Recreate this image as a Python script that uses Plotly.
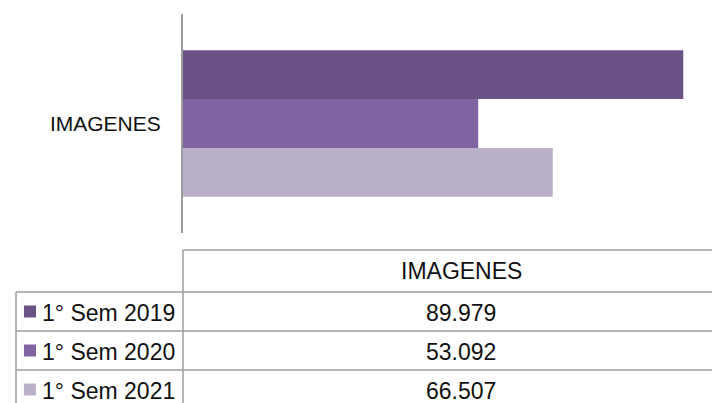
import plotly.graph_objects as go

# ── Datos ────────────────────────────────────────────────────
categoria = "IMAGENES"
series = ["1° Sem 2019", "1° Sem 2020", "1° Sem 2021"]
valores = [89979, 53092, 66507]
colores = ["#6a5186", "#8064a2", "#bab0ca"]

# la página tiene 8px de margen en el body: el gráfico ocupa 712x395
OFF = 8
W, H = 720 - OFF, 403 - OFF
FONT = "Liberation Sans, Arial, sans-serif"
GRIS = "#9c9c9c"
TXT = "#111111"


def px(x):
    return (x - OFF) / W


def py(y):
    return 1 - (y - OFF) / H


fig = go.Figure()
for nombre, v, c in zip(series, valores, colores):
    fig.add_trace(go.Bar(
        y=[categoria], x=[v], name=nombre, orientation="h",
        marker=dict(color=c, line_width=0), showlegend=False,
    ))

# eje: 0 en x=183, 100.000 en x≈739 (fuera de la imagen)
x_max = 100000 * (720 - 183) / (739 - 183)

fig.update_layout(
    width=W, height=H,
    margin=dict(l=0, r=0, t=0, b=0),
    paper_bgcolor="white", plot_bgcolor="white",
    font=dict(family=FONT, color=TXT),
    barmode="group", bargap=0.33, bargroupgap=0,
    xaxis=dict(domain=[px(183), 1], range=[0, x_max], visible=False),
    yaxis=dict(domain=[py(233), py(14)], autorange="reversed",
               showline=True, linecolor=GRIS, linewidth=2,
               showgrid=False, ticks="", ticklabelstandoff=16,
               tickfont=dict(size=21, family=FONT, color=TXT)),
)

# ── Tabla de datos ───────────────────────────────────────────
shapes = []
anns = []


def linea(x0, y0, x1, y1):
    shapes.append(dict(type="line", xref="paper", yref="paper",
                       x0=px(x0), y0=py(y0), x1=px(x1), y1=py(y1),
                       line=dict(color=GRIS, width=1.5)))


def texto(t, x, y, xanchor="center"):
    anns.append(dict(text=t, x=px(x), y=py(y), xref="paper", yref="paper",
                     xanchor=xanchor, yanchor="middle", showarrow=False,
                     font=dict(size=23, family=FONT, color=TXT)))


linea(183, 250, 720, 250)
linea(183, 250, 183, 403)
linea(16, 292, 16, 403)
filas = [292, 331, 370, 409]
for y in filas[:-1]:
    linea(16, y, 720, y)

texto(categoria, 461, 271)

for i, (nombre, v, c) in enumerate(zip(series, valores, colores)):
    yc = (filas[i] + filas[i + 1]) / 2
    shapes.append(dict(type="rect", xref="paper", yref="paper",
                       x0=px(24), x1=px(36), y0=py(yc + 6), y1=py(yc - 6),
                       fillcolor=c, line_width=0))
    texto(nombre, 40, yc + 1, xanchor="left")
    texto(f"{v:,}".replace(",", "."), 461, yc + 1)

fig.update_layout(shapes=shapes, annotations=anns)

fig.write_html("out.html")
